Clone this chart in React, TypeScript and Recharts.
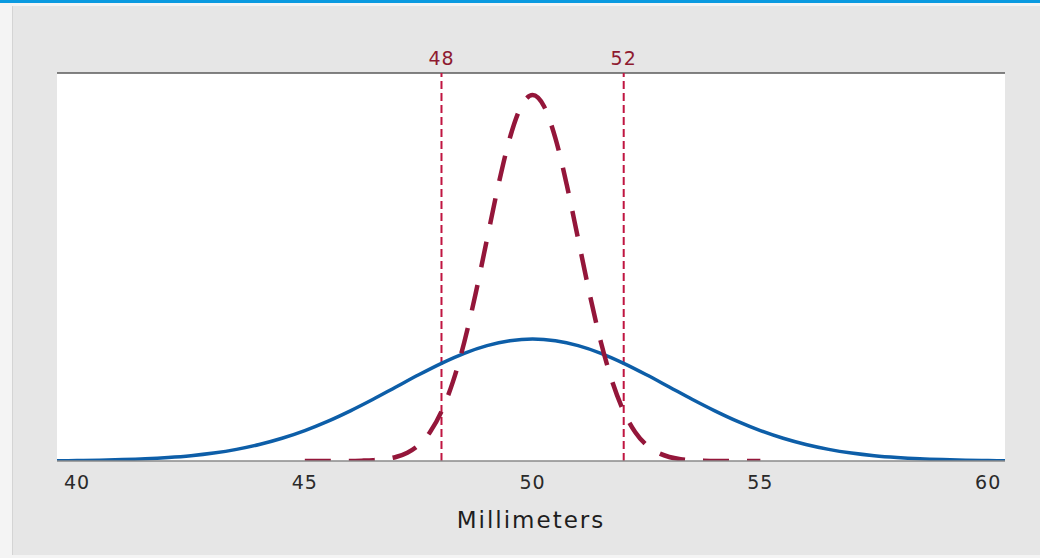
import React from "react";
import { LineChart, Line, XAxis, YAxis, CartesianGrid, ReferenceLine } from "recharts";

const xTicks = [40, 45, 50, 55, 60];
const specLimits = [48, 52];

const wideX = [39.5, 40, 40.5, 41, 41.5, 42, 42.5, 43, 43.5, 44, 44.5, 45, 45.5, 46, 46.5, 47, 47.5, 48, 48.5, 49, 49.5, 50, 50.5, 51, 51.5, 52, 52.5, 53, 53.5, 54, 54.5, 55, 55.5, 56, 56.5, 57, 57.5, 58, 58.5, 59, 59.5, 60, 60.5];
const wideY = [0.0003, 0.0005, 0.0009, 0.0015, 0.0024, 0.0038, 0.0058, 0.0087, 0.0127, 0.018, 0.0248, 0.0332, 0.0432, 0.0547, 0.0673, 0.0807, 0.094, 0.1065, 0.1174, 0.1258, 0.1311, 0.133, 0.1311, 0.1258, 0.1174, 0.1065, 0.094, 0.0807, 0.0673, 0.0547, 0.0432, 0.0332, 0.0248, 0.018, 0.0127, 0.0087, 0.0058, 0.0038, 0.0024, 0.0015, 0.0009, 0.0005, 0.0003];

const narrowX = [45, 45.5, 46, 46.25, 46.5, 46.75, 47, 47.25, 47.5, 47.75, 48, 48.25, 48.5, 48.75, 49, 49.25, 49.5, 49.75, 50, 50.25, 50.5, 50.75, 51, 51.25, 51.5, 51.75, 52, 52.25, 52.5, 52.75, 53, 53.25, 53.5, 53.75, 54, 54.5, 55];
const narrowY = [0.0, 0.0, 0.0001, 0.0004, 0.0009, 0.002, 0.0044, 0.0091, 0.0175, 0.0317, 0.054, 0.0863, 0.1295, 0.1826, 0.242, 0.3011, 0.3521, 0.3867, 0.3989, 0.3867, 0.3521, 0.3011, 0.242, 0.1826, 0.1295, 0.0863, 0.054, 0.0317, 0.0175, 0.0091, 0.0044, 0.002, 0.0009, 0.0004, 0.0001, 0.0, 0.0];

const wideData = wideX.map((x, i) => ({ x, y: wideY[i] }));
const narrowData = narrowX.map((x, i) => ({ x, y: narrowY[i] }));

const FONT = "'DejaVu Sans', 'Noto Sans', sans-serif";

export default function App() {
  return (
    <div style={{ position: "absolute", left: 0, top: 0, width: 1040, height: 558, background: "#f4f4f4", overflow: "hidden" }}>
      <div style={{ position: "absolute", left: 0, top: 0, width: 1040, height: 3, background: "#0a9ae0" }} />
      <div style={{ position: "absolute", left: 12, top: 6, width: 1028, height: 549, background: "#e6e6e6", borderLeft: "1px solid #d4d4d4" }} />
      <div style={{ position: "absolute", left: 0, top: 0 }}>
        <LineChart width={1040} height={558} margin={{ top: 73, right: 35, left: 57, bottom: 0 }}>
          <CartesianGrid fill="#ffffff" stroke="none" horizontal={false} vertical={false} />
          <XAxis
            dataKey="x"
            type="number"
            domain={[39.56, 60.37]}
            ticks={xTicks}
            allowDataOverflow
            height={97}
            tickSize={0}
            tickMargin={15}
            axisLine={{ stroke: "#8a8a8a", strokeWidth: 1.5 }}
            tick={{ fill: "#2a2a2a", fontSize: 19, fontFamily: FONT, letterSpacing: 1 }}
            label={{ value: "Millimeters", position: "insideBottom", offset: 30, fill: "#1e1e1e", fontSize: 23, fontFamily: FONT, letterSpacing: 2 }}
          />
          <YAxis type="number" domain={[0, 0.423]} hide allowDataOverflow />
          <ReferenceLine y={0.423} stroke="#5a5a5a" strokeWidth={1.5} />
          {specLimits.map((v) => (
            <ReferenceLine
              key={v}
              x={v}
              stroke="#c01541"
              strokeWidth={2}
              strokeDasharray="8 4"
              label={{ value: String(v), position: "top", offset: 8, fill: "#8e1a30", fontSize: 19, fontFamily: FONT, letterSpacing: 1 }}
            />
          ))}
          <Line data={wideData} dataKey="y" type="monotone" stroke="#0d5ea8" strokeWidth={3.5} dot={false} isAnimationActive={false} />
          <Line data={narrowData} dataKey="y" type="monotone" stroke="#94163a" strokeWidth={4.5} strokeDasharray="26 18" dot={false} isAnimationActive={false} />
        </LineChart>
      </div>
    </div>
  );
}
